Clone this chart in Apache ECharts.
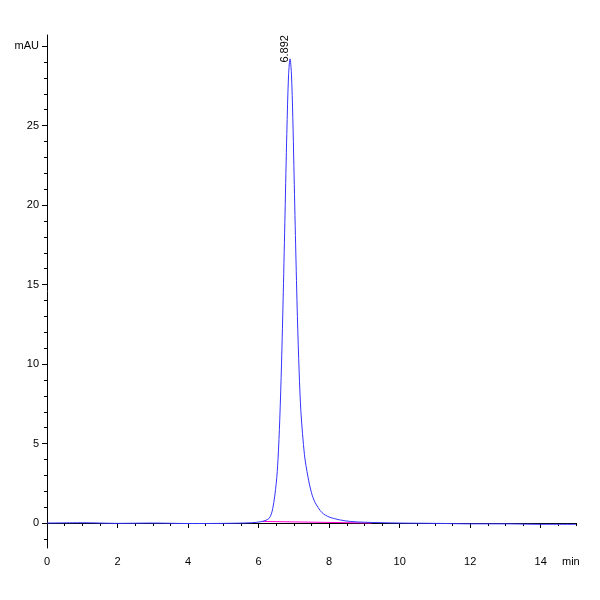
<!DOCTYPE html>
<html><head><meta charset="utf-8">
<script src="https://cdn.jsdelivr.net/npm/echarts@6/dist/echarts.min.js"></script>
<style>html,body{margin:0;background:#fff}#c{width:600px;height:600px}</style>
</head><body><div id="c"></div>
<script>
const timeMin = [0,1,2,3,4,5,5.8,6.1,6.3,6.4,6.5,6.55,6.6,6.65,6.7,6.75,6.8,6.85,6.892,6.93,6.97,7.0,7.05,7.1,7.15,7.2,7.3,7.4,7.5,7.6,7.8,8.0,8.3,8.6,9,10,11,12,13,14,15];
const signalMAU = [0,0.02,-0.02,0,-0.03,-0.02,0.02,0.1,0.3,0.9,2.5,4,6.5,10,14.5,19.5,24.5,28.2,29.2,28.3,25.5,22.5,17.5,13,9.5,7,4.3,2.9,1.9,1.3,0.65,0.38,0.2,0.1,0.05,0,-0.02,-0.05,-0.05,-0.08,-0.08];
const baselineX = [6.1, 9.2];
const baselineY = [0.1, 0.0];
const peakLabel = '6.892';
const yLabels = [0,5,10,15,20,25];
const xTickLabels = [0,2,4,6,8,10,12,14];

const yMinor = []; for (let v = -1; v <= 30; v++) yMinor.push(v);
const xMinor = []; for (let v = 0; v <= 15; v += 0.5) xMinor.push(v);
const font = "'Liberation Sans Narrow', 'Liberation Sans', sans-serif";
const axisLine = {show:true, lineStyle:{color:'#000', width:1}};
const chart = echarts.init(document.getElementById('c'));
chart.setOption({
  animation:false,
  grid:{left:47, right:24, top:35, bottom:52},
  xAxis:[
    {type:'value', min:0, max:15, axisLine, splitLine:{show:false},
     axisTick:{customValues:xTickLabels, length:5, lineStyle:{color:'#000'}},
     axisLabel:{customValues:xTickLabels, color:'#000', fontSize:11, fontFamily:font, margin:8}},
    {type:'value', min:0, max:15, position:'bottom', axisLine:{show:false}, splitLine:{show:false},
     axisTick:{customValues:xMinor, length:3, lineStyle:{color:'#000'}}, axisLabel:{show:false}}
  ],
  yAxis:[
    {type:'value', min:-1.57, max:30.7, axisLine, splitLine:{show:false},
     axisTick:{customValues:yLabels.concat([30]), length:5, lineStyle:{color:'#000'}},
     axisLabel:{customValues:yLabels.concat([30]), color:'#000', fontSize:11, fontFamily:font,
       formatter:v => v===30 ? 'mAU' : String(v)}},
    {type:'value', min:-1.57, max:30.7, position:'left', axisLine:{show:false}, splitLine:{show:false},
     axisTick:{customValues:yMinor, length:3, lineStyle:{color:'#000'}}, axisLabel:{show:false}}
  ],
  series:[
    {type:'line', xAxisIndex:0, yAxisIndex:0, data:baselineX.map((x,i)=>[x,baselineY[i]]),
     symbol:'none', lineStyle:{color:'#ff00cc', width:1}},
    {type:'line', xAxisIndex:0, yAxisIndex:0, smooth:0.3, symbol:'none',
     data:timeMin.map((x,i)=>[x,signalMAU[i]]),
     lineStyle:{color:'#3333ff', width:1},
     markPoint:{symbol:'circle', symbolSize:0,
       data:[{coord:[6.892, 29.2]}],
       label:{show:true, formatter:peakLabel, rotate:90, position:'top', distance:10, color:'#000', fontSize:11, fontFamily:font}}}
  ],
  graphic:[{type:'text', left:562, top:556, style:{text:'min', fontSize:11, fontFamily:font, fill:'#000'}}]
});
</script></body></html>
